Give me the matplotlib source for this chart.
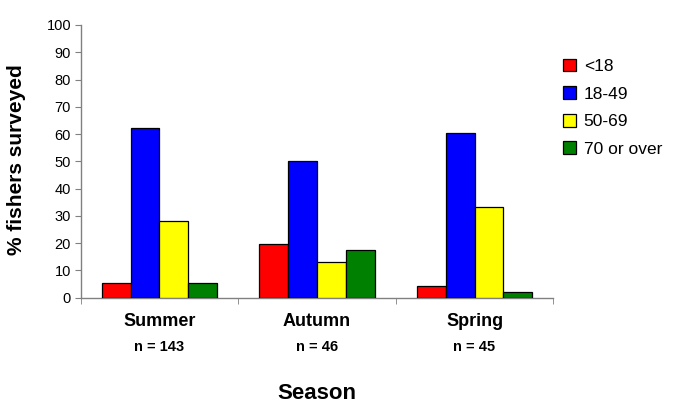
import numpy as np
import matplotlib
matplotlib.use("Agg")
import matplotlib.pyplot as plt

plt.rcParams['font.family'] = ['Liberation Sans', 'DejaVu Sans']

# données
seasons = ["Summer", "Autumn", "Spring"]
sample_sizes = ["n = 143", "n = 46", "n = 45"]
age_groups = ["<18", "18-49", "50-69", "70 or over"]
under_18 = [5.3, 19.7, 4.3]
age_18_49 = [62.3, 50.0, 60.3]
age_50_69 = [28.2, 13.2, 33.3]
over_70 = [5.3, 17.5, 2.2]
colors = ["#FF0000", "#0000FF", "#FFFF00", "#008000"]

series = [under_18, age_18_49, age_50_69, over_70]

fig = plt.figure(figsize=(6.75, 4.11), dpi=100)
ax = fig.add_axes([0.1196, 0.2757, 0.7001, 0.6635])

x = np.arange(len(seasons))
width = 0.183
for i, (vals, lab, col) in enumerate(zip(series, age_groups, colors)):
    ax.bar(x + (i - 1.5) * width, vals, width, color=col, edgecolor="black",
           linewidth=0.9, label=lab, zorder=3)

ax.set_xlim(-0.5, len(seasons) - 0.5)
ax.set_ylim(0, 100)
ax.set_yticks(range(0, 101, 10))
ax.tick_params(axis="y", direction="out", length=4, color="#808080",
               labelsize=10.5, pad=3)

# étiquettes des saisons
ax.set_xticks(x)
ax.set_xticklabels([])
ax.tick_params(axis="x", which="major", length=0)
ax.set_xticks(np.arange(-0.5, len(seasons)), minor=True)
ax.tick_params(axis="x", which="minor", direction="out", length=4,
               color="#808080")
for xi, s, n in zip(x, seasons, sample_sizes):
    ax.text(xi, -0.0855, s, transform=ax.get_xaxis_transform(), ha="center",
            va="center", fontsize=13, fontweight="bold")
    ax.text(xi, -0.181, n, transform=ax.get_xaxis_transform(), ha="center",
            va="center", fontsize=10.5, fontweight="bold")

ax.text(0.5, -0.353, "Season", transform=ax.transAxes, ha="center",
        va="center", fontsize=16, fontweight="bold")
fig.text(0.0245, 0.611, "% fishers surveyed", rotation=90, ha="center",
         va="center", fontsize=15, fontweight="bold")

for side in ["top", "right"]:
    ax.spines[side].set_visible(False)
for side in ["left", "bottom"]:
    ax.spines[side].set_color("#808080")
    ax.spines[side].set_linewidth(1)

ax.legend(loc="upper left", bbox_to_anchor=(0.834, 0.857),
          bbox_transform=fig.transFigure, frameon=False, fontsize=12.5,
          handlelength=0.75, handleheight=0.75, handletextpad=0.45,
          labelspacing=0.7, borderpad=0, borderaxespad=0)

plt.savefig("out.png", dpi=100)
